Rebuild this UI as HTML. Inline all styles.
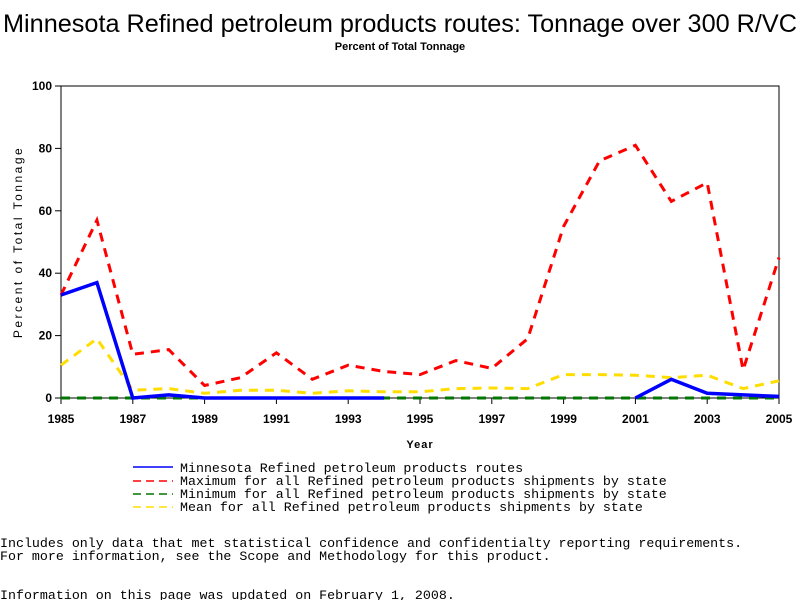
<!DOCTYPE html>
<html><head><meta charset="utf-8"><style>
html,body{margin:0;padding:0;background:#fff;width:800px;height:600px;overflow:hidden}
svg{display:block}
.m{font-family:"Liberation Mono",monospace;font-size:13.3px;fill:#000}
.t{font-family:"Liberation Sans",sans-serif;font-weight:bold;font-size:11px;fill:#000}
.tk{font-family:"Liberation Sans",sans-serif;font-weight:bold;font-size:12px;fill:#000}
</style></head><body>
<svg id="chart" width="800" height="600">
<text x="3" y="32" font-family="Liberation Sans,sans-serif" font-size="25" textLength="794" lengthAdjust="spacingAndGlyphs">Minnesota Refined petroleum products routes: Tonnage over 300 R/VC</text>
<text x="400" y="50" text-anchor="middle" class="t">Percent of Total Tonnage</text>
<rect x="61" y="86" width="718" height="312" fill="none" stroke="#000"/>
<g id="axes"></g>
<g id="series"></g>
<text x="420" y="448" text-anchor="middle" class="t" letter-spacing="1">Year</text>
<text transform="translate(22,242) rotate(-90)" text-anchor="middle" style="font-family:'Liberation Sans',sans-serif;font-size:12px;font-weight:normal" letter-spacing="2.5">Percent of Total Tonnage</text>
<g>
<line x1="133" y1="467" x2="173" y2="467" stroke="#00f" stroke-width="1.5"/>
<line x1="133" y1="481" x2="173" y2="481" stroke="#f00" stroke-width="1.5" stroke-dasharray="8,5"/>
<line x1="133" y1="494" x2="173" y2="494" stroke="#070" stroke-width="1.5" stroke-dasharray="8,5"/>
<line x1="133" y1="507" x2="173" y2="507" stroke="#fd0" stroke-width="1.5" stroke-dasharray="8,5"/>
<text x="180" y="472" class="m">Minnesota Refined petroleum products routes</text>
<text x="180" y="485" class="m">Maximum for all Refined petroleum products shipments by state</text>
<text x="180" y="498" class="m">Minimum for all Refined petroleum products shipments by state</text>
<text x="180" y="511" class="m">Mean for all Refined petroleum products shipments by state</text>
</g>
<text x="0" y="547" class="m">Includes only data that met statistical confidence and confidentialty reporting requirements.</text>
<text x="0" y="560" class="m">For more information, see the Scope and Methodology for this product.</text>
<text x="0" y="599" class="m">Information on this page was updated on February 1, 2008.</text>
</svg>
<script>
const years=[1985,1986,1987,1988,1989,1990,1991,1992,1993,1994,1995,1996,1997,1998,1999,2000,2001,2002,2003,2004,2005];
const mnValues=[33,37,0,1,0,0,0,0,0,0,null,null,null,null,null,null,0,6,1.5,1,0.5];
const maxValues=[33,57,14,15.5,4,6.5,14.5,6,10.5,8.5,7.5,12,9.5,19,55,76,81,63,69,9,45];
const minValues=[0,0,0,0,0,0,0,0,0,0,0,0,0,0,0,0,0,0,0,0,0];
const meanValues=[10.5,19,2.5,3,1.5,2.5,2.5,1.5,2.3,2,2,3,3.2,3,7.5,7.5,7.3,6.5,7.3,3,5.5];
const yTicks=[0,20,40,60,80,100];
const xTicks=[1985,1987,1989,1991,1993,1995,1997,1999,2001,2003,2005];
const NS="http://www.w3.org/2000/svg";
const xs=y=>61+(y-1985)*(718/20);
const ys=v=>398-v*3.12;
const axes=document.getElementById('axes');
yTicks.forEach(t=>{
 const l=document.createElementNS(NS,'line');
 l.setAttribute('x1',55);l.setAttribute('x2',61);l.setAttribute('y1',ys(t));l.setAttribute('y2',ys(t));l.setAttribute('stroke','#000');
 
 
 axes.appendChild(l);
 const tx=document.createElementNS(NS,'text');
 tx.setAttribute('x',52);tx.setAttribute('y',ys(t)+4);tx.setAttribute('text-anchor','end');tx.setAttribute('class','tk');
 tx.textContent=t;
 
 
 axes.appendChild(tx);
});
xTicks.forEach(t=>{
 const l=document.createElementNS(NS,'line');
 l.setAttribute('x1',xs(t));l.setAttribute('x2',xs(t));l.setAttribute('y1',398);l.setAttribute('y2',404);l.setAttribute('stroke','#000');
 
 
 axes.appendChild(l);
 const tx=document.createElementNS(NS,'text');
 tx.setAttribute('x',xs(t));tx.setAttribute('y',423);tx.setAttribute('text-anchor','middle');tx.setAttribute('class','tk');
 tx.textContent=t;
 
 
 axes.appendChild(tx);
});
const g=document.getElementById('series');
function draw(vals,color,w,dash,name){
 let d='',pen=false;
 vals.forEach((v,i)=>{
  if(v===null){pen=false;return;}
  d+=(pen?'L':'M')+xs(years[i]).toFixed(1)+','+ys(v).toFixed(1);pen=true;
 });
 const p=document.createElementNS(NS,'path');
 p.setAttribute('d',d);p.setAttribute('fill','none');p.setAttribute('stroke',color);p.setAttribute('stroke-width',w);
 if(dash)p.setAttribute('stroke-dasharray',dash);
 
 
 g.appendChild(p);
}
draw(minValues,'#070',3,'9,7','minimum-line');
draw(meanValues,'#fd0',3,'9,7','mean-line');
draw(maxValues,'#f00',3,'9,7','maximum-line');
draw(mnValues,'#00f',3.5,null,'minnesota-line');
</script>
</body></html>
